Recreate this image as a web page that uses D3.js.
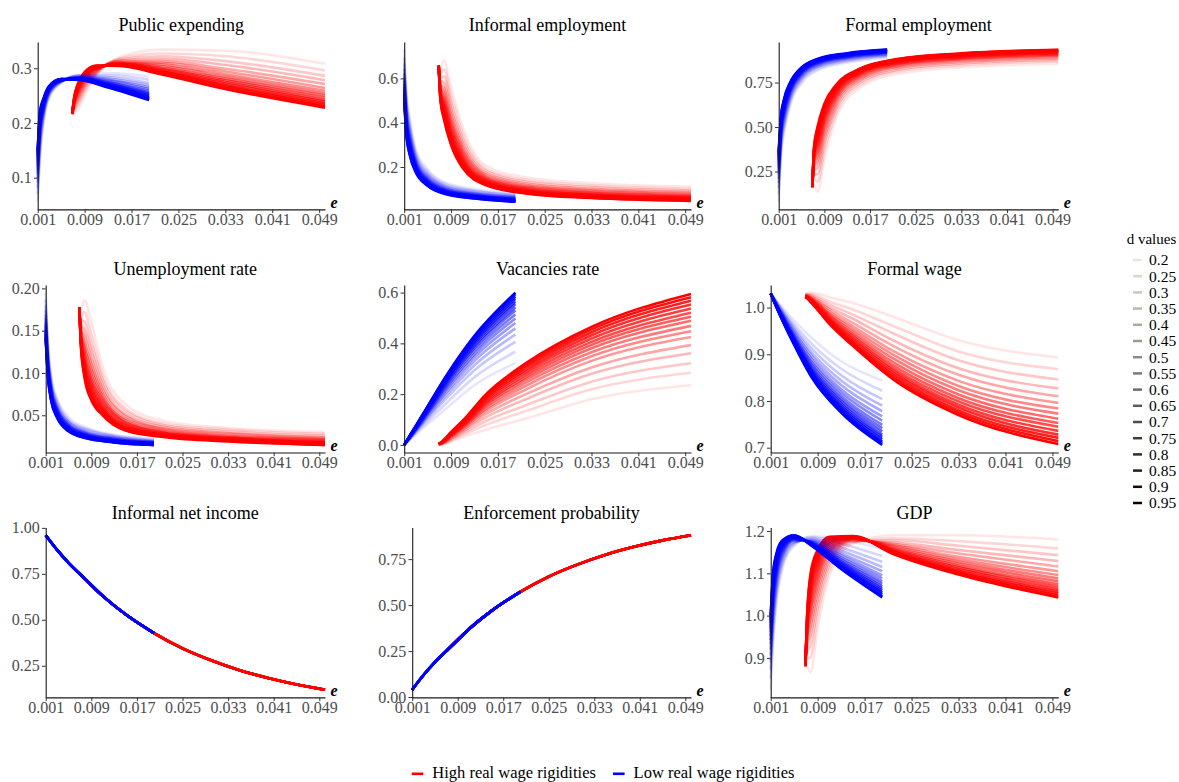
<!DOCTYPE html>
<html>
<head>
<meta charset="utf-8">
<script src="https://cdnjs.cloudflare.com/ajax/libs/d3/7.8.5/d3.min.js"></script>
<style>
  body { margin: 0; background: #fff; }
  svg text { font-family: "Liberation Serif", "Times New Roman", serif; }
</style>
</head>
<body>
<svg id="chart" width="1179" height="782"></svg>
<script>
// d values (legend) and the two wage-rigidity groups
const dValues = [0.2, 0.25, 0.3, 0.35, 0.4, 0.45, 0.5, 0.55, 0.6, 0.65, 0.7, 0.75, 0.8, 0.85, 0.9, 0.95]
const groupNames = ['High real wage rigidities', 'Low real wage rigidities']

// e grids: one row of each table below per grid point, one column per d value
const eLow = [0.001, 0.0014, 0.002, 0.003, 0.005, 0.008, 0.013, 0.02]
const eHigh = [0.0069, 0.0072, 0.0078, 0.009, 0.011, 0.015, 0.022, 0.033, 0.05]
const eIncomeLow = [0.001, 0.003, 0.005, 0.008, 0.011, 0.015, 0.02]
const eIncomeHigh = [0.007, 0.011, 0.015, 0.02, 0.025, 0.03, 0.035, 0.04, 0.045, 0.05]
const xTicks = [0.001, 0.009, 0.017, 0.025, 0.033, 0.041, 0.049]

// Public expending
const pubExpLow = [
  [0.056,0.070,0.081,0.091,0.100,0.107,0.113,0.119,0.124,0.129,0.133,0.137,0.141,0.144,0.147,0.150],
  [0.135,0.148,0.159,0.168,0.176,0.182,0.188,0.193,0.198,0.202,0.206,0.210,0.213,0.216,0.219,0.222],
  [0.200,0.207,0.212,0.217,0.221,0.225,0.228,0.230,0.233,0.235,0.237,0.239,0.241,0.242,0.244,0.245],
  [0.247,0.250,0.253,0.255,0.257,0.258,0.260,0.261,0.262,0.263,0.264,0.265,0.266,0.267,0.267,0.268],
  [0.273,0.274,0.275,0.276,0.276,0.277,0.277,0.278,0.278,0.278,0.279,0.279,0.279,0.280,0.280,0.280],
  [0.288,0.287,0.286,0.285,0.284,0.283,0.283,0.282,0.282,0.281,0.281,0.280,0.280,0.280,0.279,0.279],
  [0.291,0.287,0.284,0.281,0.279,0.277,0.275,0.274,0.272,0.271,0.270,0.269,0.268,0.267,0.266,0.265],
  [0.285,0.279,0.273,0.269,0.265,0.262,0.259,0.256,0.254,0.252,0.250,0.248,0.246,0.245,0.243,0.242]
]
const pubExpHigh = [
  [0.215,0.215,0.216,0.216,0.216,0.217,0.217,0.217,0.217,0.217,0.217,0.218,0.218,0.218,0.218,0.218],
  [0.218,0.222,0.225,0.228,0.231,0.233,0.235,0.236,0.238,0.239,0.240,0.241,0.242,0.243,0.244,0.245],
  [0.224,0.231,0.236,0.241,0.245,0.249,0.252,0.255,0.257,0.260,0.262,0.264,0.265,0.267,0.269,0.270],
  [0.250,0.257,0.262,0.266,0.270,0.273,0.276,0.279,0.281,0.283,0.285,0.287,0.289,0.290,0.292,0.293],
  [0.286,0.289,0.291,0.293,0.295,0.296,0.298,0.299,0.300,0.301,0.302,0.302,0.303,0.304,0.304,0.305],
  [0.320,0.318,0.316,0.314,0.313,0.311,0.310,0.309,0.308,0.308,0.307,0.306,0.306,0.305,0.305,0.304],
  [0.334,0.327,0.322,0.317,0.313,0.310,0.307,0.304,0.301,0.299,0.297,0.295,0.294,0.292,0.290,0.289],
  [0.332,0.322,0.313,0.306,0.299,0.294,0.289,0.285,0.281,0.278,0.275,0.272,0.269,0.267,0.264,0.262],
  [0.308,0.296,0.286,0.278,0.271,0.264,0.259,0.254,0.250,0.246,0.242,0.239,0.236,0.233,0.230,0.228]
]

// Informal employment
const informalLow = [
  [0.730,0.696,0.668,0.644,0.623,0.605,0.590,0.576,0.563,0.552,0.541,0.532,0.523,0.515,0.507,0.500],
  [0.533,0.504,0.481,0.460,0.443,0.427,0.415,0.403,0.392,0.383,0.374,0.366,0.358,0.352,0.345,0.339],
  [0.413,0.388,0.369,0.352,0.337,0.324,0.313,0.303,0.294,0.286,0.279,0.272,0.265,0.260,0.254,0.249],
  [0.279,0.263,0.251,0.240,0.231,0.222,0.216,0.209,0.204,0.198,0.194,0.190,0.185,0.182,0.178,0.175],
  [0.190,0.179,0.170,0.162,0.155,0.149,0.144,0.140,0.136,0.132,0.129,0.126,0.123,0.120,0.117,0.115],
  [0.130,0.122,0.116,0.111,0.106,0.102,0.098,0.095,0.092,0.090,0.087,0.085,0.083,0.081,0.080,0.078],
  [0.100,0.094,0.089,0.084,0.080,0.077,0.074,0.072,0.070,0.067,0.066,0.064,0.062,0.061,0.059,0.058],
  [0.082,0.076,0.071,0.067,0.064,0.061,0.058,0.056,0.054,0.052,0.050,0.049,0.047,0.046,0.044,0.043]
]
const informalHigh = [
  [0.630,0.635,0.638,0.641,0.644,0.646,0.648,0.650,0.652,0.653,0.655,0.656,0.657,0.658,0.659,0.660],
  [0.645,0.623,0.606,0.591,0.578,0.566,0.557,0.548,0.540,0.533,0.526,0.520,0.515,0.509,0.504,0.500],
  [0.680,0.640,0.608,0.581,0.557,0.536,0.518,0.502,0.488,0.475,0.463,0.452,0.442,0.432,0.423,0.415],
  [0.560,0.521,0.490,0.463,0.439,0.418,0.401,0.386,0.372,0.359,0.347,0.336,0.326,0.317,0.308,0.300],
  [0.380,0.352,0.330,0.311,0.294,0.279,0.267,0.256,0.246,0.237,0.228,0.221,0.214,0.207,0.201,0.195],
  [0.205,0.192,0.182,0.172,0.165,0.158,0.152,0.147,0.142,0.138,0.134,0.130,0.127,0.124,0.121,0.118],
  [0.152,0.141,0.133,0.125,0.119,0.113,0.108,0.104,0.100,0.096,0.093,0.090,0.087,0.085,0.082,0.080],
  [0.127,0.117,0.109,0.102,0.096,0.091,0.086,0.082,0.078,0.075,0.072,0.069,0.067,0.064,0.062,0.060],
  [0.112,0.102,0.094,0.088,0.082,0.077,0.072,0.068,0.065,0.062,0.059,0.056,0.054,0.051,0.049,0.047]
]

// Formal employment
const formalLow = [
  [0.080,0.122,0.156,0.185,0.210,0.233,0.251,0.268,0.283,0.297,0.310,0.321,0.332,0.342,0.352,0.360],
  [0.330,0.365,0.392,0.416,0.437,0.455,0.470,0.484,0.497,0.508,0.519,0.528,0.537,0.545,0.553,0.560],
  [0.475,0.504,0.526,0.546,0.563,0.579,0.591,0.602,0.613,0.622,0.631,0.638,0.646,0.653,0.659,0.665],
  [0.620,0.640,0.655,0.669,0.681,0.691,0.699,0.707,0.714,0.721,0.727,0.732,0.737,0.742,0.746,0.750],
  [0.745,0.759,0.769,0.779,0.787,0.794,0.800,0.805,0.810,0.815,0.819,0.822,0.826,0.829,0.832,0.835],
  [0.820,0.830,0.838,0.844,0.850,0.855,0.860,0.864,0.867,0.870,0.873,0.876,0.879,0.881,0.883,0.885],
  [0.862,0.870,0.876,0.882,0.887,0.891,0.894,0.898,0.900,0.903,0.905,0.908,0.910,0.912,0.913,0.915],
  [0.890,0.897,0.902,0.907,0.911,0.915,0.918,0.920,0.923,0.925,0.927,0.929,0.931,0.932,0.934,0.935]
]
const formalHigh = [
  [0.190,0.186,0.182,0.179,0.176,0.174,0.172,0.170,0.168,0.167,0.165,0.164,0.163,0.162,0.161,0.160],
  [0.175,0.207,0.233,0.256,0.275,0.292,0.306,0.319,0.331,0.342,0.351,0.360,0.369,0.376,0.384,0.390],
  [0.137,0.192,0.235,0.273,0.306,0.335,0.358,0.380,0.400,0.418,0.435,0.449,0.464,0.476,0.489,0.500],
  [0.320,0.367,0.404,0.436,0.464,0.489,0.509,0.528,0.545,0.560,0.574,0.587,0.599,0.610,0.621,0.630],
  [0.545,0.574,0.596,0.616,0.633,0.649,0.661,0.672,0.683,0.692,0.701,0.708,0.716,0.723,0.729,0.735],
  [0.715,0.732,0.745,0.756,0.766,0.775,0.782,0.789,0.795,0.800,0.805,0.810,0.814,0.818,0.822,0.825],
  [0.800,0.813,0.822,0.831,0.839,0.845,0.851,0.856,0.860,0.864,0.868,0.871,0.875,0.878,0.881,0.883],
  [0.836,0.848,0.857,0.865,0.872,0.879,0.884,0.888,0.893,0.897,0.900,0.903,0.906,0.909,0.912,0.914],
  [0.856,0.868,0.877,0.885,0.892,0.899,0.904,0.908,0.913,0.916,0.920,0.923,0.926,0.929,0.932,0.934]
]

// Unemployment rate
const unempLow = [
  [0.195,0.187,0.180,0.174,0.169,0.165,0.161,0.158,0.155,0.152,0.150,0.148,0.146,0.144,0.142,0.140],
  [0.135,0.129,0.124,0.120,0.116,0.113,0.111,0.108,0.106,0.104,0.102,0.101,0.099,0.098,0.096,0.095],
  [0.095,0.091,0.087,0.084,0.082,0.079,0.077,0.076,0.074,0.073,0.071,0.070,0.069,0.068,0.067,0.066],
  [0.070,0.067,0.064,0.061,0.059,0.058,0.056,0.055,0.053,0.052,0.051,0.050,0.049,0.049,0.048,0.047],
  [0.048,0.045,0.043,0.042,0.040,0.039,0.038,0.037,0.036,0.035,0.034,0.033,0.033,0.032,0.032,0.031],
  [0.036,0.034,0.033,0.031,0.030,0.029,0.028,0.027,0.027,0.026,0.025,0.025,0.024,0.024,0.023,0.023],
  [0.027,0.026,0.025,0.024,0.023,0.022,0.022,0.021,0.020,0.020,0.020,0.019,0.019,0.019,0.018,0.018],
  [0.022,0.021,0.020,0.019,0.019,0.018,0.018,0.017,0.017,0.017,0.016,0.016,0.016,0.015,0.015,0.015]
]
const unempHigh = [
  [0.170,0.171,0.172,0.173,0.174,0.174,0.175,0.175,0.176,0.176,0.177,0.177,0.177,0.177,0.178,0.178],
  [0.175,0.168,0.163,0.158,0.154,0.151,0.148,0.145,0.142,0.140,0.138,0.136,0.135,0.133,0.131,0.130],
  [0.186,0.172,0.161,0.152,0.144,0.136,0.131,0.125,0.120,0.116,0.111,0.108,0.104,0.101,0.098,0.095],
  [0.160,0.146,0.135,0.126,0.117,0.110,0.104,0.098,0.093,0.089,0.085,0.081,0.077,0.074,0.071,0.068],
  [0.107,0.098,0.092,0.086,0.081,0.076,0.072,0.069,0.066,0.063,0.060,0.058,0.056,0.054,0.052,0.050],
  [0.063,0.058,0.055,0.051,0.049,0.046,0.044,0.042,0.041,0.039,0.038,0.036,0.035,0.034,0.033,0.032],
  [0.043,0.040,0.038,0.036,0.034,0.033,0.031,0.030,0.029,0.028,0.027,0.027,0.026,0.025,0.025,0.024],
  [0.035,0.033,0.031,0.029,0.028,0.026,0.025,0.024,0.023,0.023,0.022,0.021,0.021,0.020,0.020,0.019],
  [0.030,0.028,0.026,0.024,0.023,0.022,0.021,0.020,0.019,0.018,0.018,0.017,0.017,0.016,0.015,0.015]
]

// Vacancies rate
const vacancyLow = [
  [0.000,0.000,0.000,0.000,0.000,0.000,0.000,0.000,0.000,0.000,0.000,0.000,0.000,0.000,0.000,0.000],
  [0.008,0.009,0.010,0.011,0.011,0.012,0.012,0.013,0.013,0.014,0.014,0.014,0.014,0.015,0.015,0.015],
  [0.020,0.023,0.025,0.027,0.029,0.030,0.031,0.032,0.034,0.034,0.035,0.036,0.037,0.037,0.038,0.038],
  [0.041,0.047,0.052,0.055,0.058,0.061,0.063,0.065,0.067,0.069,0.070,0.072,0.073,0.074,0.075,0.076],
  [0.082,0.093,0.103,0.110,0.117,0.122,0.126,0.130,0.134,0.137,0.141,0.143,0.146,0.148,0.151,0.152],
  [0.140,0.160,0.178,0.191,0.202,0.212,0.220,0.227,0.234,0.240,0.246,0.250,0.255,0.259,0.263,0.266],
  [0.235,0.267,0.294,0.314,0.331,0.346,0.358,0.370,0.381,0.389,0.398,0.405,0.413,0.420,0.426,0.430],
  [0.322,0.367,0.406,0.435,0.459,0.480,0.498,0.514,0.530,0.542,0.555,0.565,0.576,0.585,0.594,0.600]
]
const vacancyHigh = [
  [0.000,0.001,0.001,0.002,0.002,0.003,0.003,0.003,0.004,0.004,0.004,0.004,0.004,0.005,0.005,0.005],
  [0.000,0.001,0.002,0.003,0.004,0.004,0.005,0.005,0.006,0.006,0.006,0.007,0.007,0.007,0.008,0.008],
  [0.003,0.005,0.007,0.009,0.010,0.012,0.013,0.014,0.015,0.016,0.017,0.017,0.018,0.019,0.019,0.020],
  [0.012,0.017,0.021,0.025,0.029,0.032,0.035,0.037,0.039,0.041,0.042,0.044,0.046,0.047,0.049,0.050],
  [0.030,0.039,0.046,0.053,0.059,0.064,0.069,0.072,0.076,0.079,0.082,0.085,0.087,0.090,0.093,0.095],
  [0.060,0.079,0.094,0.109,0.122,0.134,0.143,0.151,0.159,0.165,0.171,0.178,0.184,0.190,0.195,0.200],
  [0.105,0.135,0.158,0.182,0.202,0.221,0.235,0.248,0.260,0.270,0.280,0.290,0.299,0.309,0.317,0.325],
  [0.180,0.219,0.249,0.280,0.305,0.331,0.349,0.365,0.381,0.394,0.406,0.419,0.432,0.444,0.455,0.465],
  [0.235,0.284,0.322,0.361,0.393,0.425,0.448,0.469,0.489,0.505,0.521,0.537,0.553,0.568,0.582,0.595]
]

// Formal wage
const wageLow = [
  [1.030,1.030,1.030,1.030,1.030,1.030,1.030,1.030,1.030,1.030,1.030,1.030,1.030,1.030,1.030,1.030],
  [1.024,1.023,1.022,1.022,1.021,1.021,1.020,1.020,1.020,1.019,1.019,1.019,1.019,1.018,1.018,1.018],
  [1.015,1.013,1.011,1.009,1.008,1.007,1.006,1.005,1.004,1.003,1.003,1.002,1.002,1.001,1.000,1.000],
  [1.000,0.996,0.992,0.990,0.987,0.985,0.983,0.981,0.980,0.978,0.977,0.976,0.975,0.974,0.973,0.972],
  [0.972,0.964,0.958,0.953,0.948,0.944,0.940,0.937,0.934,0.932,0.929,0.927,0.925,0.923,0.922,0.920],
  [0.935,0.922,0.912,0.903,0.896,0.889,0.883,0.878,0.873,0.869,0.865,0.862,0.859,0.856,0.853,0.850],
  [0.885,0.869,0.855,0.844,0.834,0.825,0.818,0.811,0.805,0.800,0.795,0.790,0.786,0.782,0.778,0.775],
  [0.844,0.822,0.804,0.790,0.778,0.767,0.758,0.749,0.742,0.735,0.728,0.723,0.718,0.713,0.710,0.706]
]
const wageHigh = [
  [1.030,1.029,1.028,1.027,1.026,1.026,1.025,1.025,1.024,1.024,1.023,1.023,1.023,1.023,1.022,1.022],
  [1.031,1.029,1.028,1.027,1.026,1.025,1.024,1.024,1.023,1.022,1.022,1.022,1.021,1.021,1.020,1.020],
  [1.032,1.029,1.027,1.025,1.023,1.021,1.020,1.019,1.018,1.017,1.016,1.015,1.014,1.013,1.013,1.012],
  [1.030,1.025,1.021,1.017,1.014,1.011,1.009,1.007,1.005,1.003,1.001,1.000,0.999,0.997,0.996,0.995],
  [1.022,1.013,1.007,1.001,0.996,0.991,0.987,0.984,0.981,0.978,0.975,0.973,0.971,0.969,0.967,0.965],
  [1.010,0.996,0.985,0.976,0.967,0.960,0.954,0.948,0.943,0.939,0.935,0.931,0.927,0.924,0.921,0.918],
  [0.980,0.960,0.944,0.929,0.917,0.906,0.898,0.890,0.882,0.875,0.869,0.864,0.859,0.854,0.849,0.845],
  [0.930,0.906,0.887,0.870,0.856,0.843,0.832,0.823,0.814,0.806,0.799,0.792,0.786,0.780,0.775,0.770],
  [0.893,0.868,0.846,0.827,0.810,0.796,0.784,0.773,0.762,0.753,0.745,0.736,0.728,0.721,0.714,0.708]
]

// Informal net income and enforcement probability do not depend on d
const incomeLow = [0.96, 0.88, 0.81, 0.72, 0.63, 0.53, 0.428]
const incomeHigh = [0.75, 0.63, 0.53, 0.428, 0.345, 0.28, 0.226, 0.183, 0.148, 0.12]
const enforceLow = [0.04, 0.12, 0.19, 0.28, 0.37, 0.47, 0.572]
const enforceHigh = [0.25, 0.37, 0.47, 0.572, 0.655, 0.72, 0.774, 0.817, 0.852, 0.88]

// GDP
const gdpLow = [
  [0.825,0.851,0.872,0.891,0.906,0.920,0.932,0.942,0.952,0.961,0.969,0.976,0.983,0.989,0.995,1.000],
  [0.930,0.956,0.976,0.994,1.009,1.023,1.034,1.044,1.053,1.062,1.069,1.076,1.083,1.089,1.095,1.100],
  [1.030,1.048,1.062,1.074,1.085,1.094,1.102,1.109,1.116,1.122,1.127,1.132,1.136,1.140,1.145,1.148],
  [1.110,1.120,1.128,1.136,1.142,1.147,1.152,1.156,1.159,1.163,1.166,1.169,1.171,1.174,1.176,1.178],
  [1.165,1.169,1.172,1.174,1.177,1.179,1.180,1.182,1.183,1.184,1.186,1.187,1.188,1.188,1.189,1.190],
  [1.188,1.185,1.182,1.179,1.177,1.175,1.174,1.173,1.171,1.170,1.169,1.168,1.167,1.166,1.166,1.165],
  [1.180,1.170,1.161,1.154,1.147,1.142,1.137,1.133,1.129,1.126,1.123,1.120,1.117,1.115,1.112,1.110],
  [1.158,1.141,1.127,1.115,1.105,1.095,1.088,1.081,1.075,1.069,1.064,1.059,1.055,1.051,1.046,1.043]
]
const gdpHigh = [
  [0.890,0.889,0.887,0.886,0.885,0.885,0.884,0.883,0.883,0.882,0.882,0.881,0.881,0.881,0.880,0.880],
  [0.880,0.898,0.912,0.925,0.936,0.945,0.953,0.960,0.967,0.973,0.978,0.983,0.988,0.992,0.996,1.000],
  [0.866,0.901,0.929,0.954,0.975,0.994,1.009,1.023,1.036,1.047,1.058,1.067,1.077,1.085,1.093,1.100],
  [0.970,0.998,1.020,1.039,1.056,1.071,1.083,1.094,1.104,1.113,1.122,1.129,1.137,1.143,1.150,1.155],
  [1.095,1.109,1.120,1.129,1.137,1.145,1.151,1.156,1.161,1.166,1.170,1.173,1.177,1.180,1.183,1.186],
  [1.170,1.173,1.175,1.177,1.178,1.180,1.181,1.182,1.183,1.184,1.185,1.186,1.186,1.187,1.187,1.188],
  [1.190,1.183,1.178,1.173,1.169,1.166,1.163,1.160,1.157,1.155,1.153,1.151,1.150,1.148,1.146,1.145],
  [1.190,1.176,1.165,1.155,1.147,1.139,1.133,1.128,1.123,1.118,1.114,1.110,1.106,1.103,1.100,1.097],
  [1.180,1.159,1.143,1.129,1.116,1.105,1.096,1.088,1.081,1.074,1.068,1.062,1.057,1.052,1.047,1.043]
]

// y tick values per panel
const pubExpTicks = [0.1, 0.2, 0.3]
const informalTicks = [0.2, 0.4, 0.6]
const formalTicks = [0.25, 0.5, 0.75]
const unempTicks = [0.05, 0.1, 0.15, 0.2]
const vacancyTicks = [0, 0.2, 0.4, 0.6]
const wageTicks = [0.7, 0.8, 0.9, 1.0]
const incomeTicks = [0.25, 0.5, 0.75, 1.0]
const enforceTicks = [0, 0.25, 0.5, 0.75]
const gdpTicks = [0.9, 1.0, 1.1, 1.2]

const panels = [
  { title: 'Public expending', high: pubExpHigh, low: pubExpLow, eH: eHigh, eL: eLow, ticks: pubExpTicks, fmt: '.1f' },
  { title: 'Informal employment', high: informalHigh, low: informalLow, eH: eHigh, eL: eLow, ticks: informalTicks, fmt: '.1f' },
  { title: 'Formal employment', high: formalHigh, low: formalLow, eH: eHigh, eL: eLow, ticks: formalTicks, fmt: '.2f' },
  { title: 'Unemployment rate', high: unempHigh, low: unempLow, eH: eHigh, eL: eLow, ticks: unempTicks, fmt: '.2f' },
  { title: 'Vacancies rate', high: vacancyHigh, low: vacancyLow, eH: eHigh, eL: eLow, ticks: vacancyTicks, fmt: '.1f' },
  { title: 'Formal wage', high: wageHigh, low: wageLow, eH: eHigh, eL: eLow, ticks: wageTicks, fmt: '.1f' },
  { title: 'Informal net income', high: incomeHigh, low: incomeLow, eH: eIncomeHigh, eL: eIncomeLow, ticks: incomeTicks, fmt: '.2f' },
  { title: 'Enforcement probability', high: enforceHigh, low: enforceLow, eH: eIncomeHigh, eL: eIncomeLow, ticks: enforceTicks, fmt: '.2f' },
  { title: 'GDP', high: gdpHigh, low: gdpLow, eH: eHigh, eL: eLow, ticks: gdpTicks, fmt: '.1f' }
]

const colors = ['#FF0000', '#0000FF']
const svg = d3.select('#chart')

// layout of the 3x3 grid
const colX = [0, 366.5, 733]
const colRight = [325, 691, 1058.3]
const rowTop = [42, 285, 527.5]
const rowBottom = [209.4, 452.5, 697.4]
const titleY = [30.7, 274.5, 518.7]

const alpha = d3.scaleLinear().domain([0, dValues.length - 1]).range([0.1, 1])
const pick = (row, k) => (typeof row === 'number' ? row : row[k])

panels.forEach((p, i) => {
  const c = i % 3, r = Math.floor(i / 3)
  const fmt = d3.format(p.fmt)

  // y labels width decides where the panel starts
  const probe = svg.append('text').style('font-size', '16px')
  let lw = 0
  p.ticks.forEach(t => {
    probe.text(fmt(t))
    lw = Math.max(lw, probe.node().getComputedTextLength())
  })
  probe.remove()

  const left = colX[c] + 11.7 + lw + 6
  const right = colRight[c]

  const all = [].concat(p.high.flat(), p.low.flat())
  const [lo, hi] = d3.extent(all)
  const pad = (hi - lo) * 0.05

  const x = d3.scaleLinear().domain([0.001, 0.05]).range([left, right])
  const y = d3.scaleLinear().domain([lo - pad, hi + pad]).range([rowBottom[r], rowTop[r]])

  const g = svg.append('g')

  const line = d3.line()
    .x(d => x(d[0]))
    .y(d => y(d[1]))
    .curve(d3.curveMonotoneX)

  // High drawn first, Low on top
  const sets = [[p.high, p.eH, colors[0]], [p.low, p.eL, colors[1]]]
  sets.forEach(([rows, grid, col]) => {
    dValues.forEach((d, k) => {
      g.append('path')
        .datum(grid.map((e, j) => [e, pick(rows[j], k)]))
        .attr('d', line)
        .attr('fill', 'none')
        .attr('stroke', col)
        .attr('stroke-opacity', alpha(k))
        .attr('stroke-width', 2.6)
        .attr('stroke-linejoin', 'round')
    })
  })

  // axes
  const xAxis = g.append('g')
    .attr('transform', `translate(0,${rowBottom[r]})`)
    .call(d3.axisBottom(x).tickValues(xTicks).tickFormat(d3.format('.3f')).tickSize(3.7).tickSizeOuter(0).tickPadding(0.5))
  const yAxis = g.append('g')
    .attr('transform', `translate(${left},0)`)
    .call(d3.axisLeft(y).tickValues(p.ticks).tickFormat(fmt).tickSize(3.7).tickSizeOuter(0).tickPadding(2.3))

  ;[xAxis, yAxis].forEach(a => {
    a.attr('font-family', null).attr('font-size', null)
    a.select('.domain').attr('stroke', '#1a1a1a').attr('stroke-width', 1.1)
    a.selectAll('.tick line').attr('stroke', '#333').attr('stroke-width', 1)
    a.selectAll('.tick text').attr('fill', '#4d4d4d').style('font-size', '16px')
  })

  // "e" at the end of the x axis
  g.append('text')
    .attr('x', right + 5.5)
    .attr('y', rowBottom[r] - 1.5)
    .style('font-size', '16px')
    .style('font-weight', 'bold')
    .style('font-style', 'italic')
    .text('e')

  g.append('text')
    .attr('x', (left + right) / 2)
    .attr('y', titleY[r])
    .attr('text-anchor', 'middle')
    .style('font-size', '18px')
    .text(p.title)
})

// d values legend
const lg = svg.append('g')
lg.append('text')
  .attr('x', 1126.7)
  .attr('y', 244)
  .style('font-size', '15px')
  .text('d values')
dValues.forEach((d, k) => {
  const yy = 260 + 16.2 * k
  lg.append('line')
    .attr('x1', 1133).attr('x2', 1142)
    .attr('y1', yy).attr('y2', yy)
    .attr('stroke', '#000')
    .attr('stroke-opacity', alpha(k))
    .attr('stroke-width', 2.5)
  lg.append('text')
    .attr('x', 1149)
    .attr('y', yy)
    .attr('dy', '0.35em')
    .style('font-size', '15.5px')
    .text(d)
})

// group legend at the bottom
const bl = svg.append('g')
const keyX = [411.7, 613]
groupNames.forEach((name, i) => {
  bl.append('line')
    .attr('x1', keyX[i]).attr('x2', keyX[i] + 11.6)
    .attr('y1', 773.8).attr('y2', 773.8)
    .attr('stroke', colors[i])
    .attr('stroke-width', 2.6)
  bl.append('text')
    .attr('x', keyX[i] + 20.6)
    .attr('y', 773.5)
    .attr('dy', '0.28em')
    .style('font-size', '16.5px')
    .text(name)
})
</script>
</body>
</html>
